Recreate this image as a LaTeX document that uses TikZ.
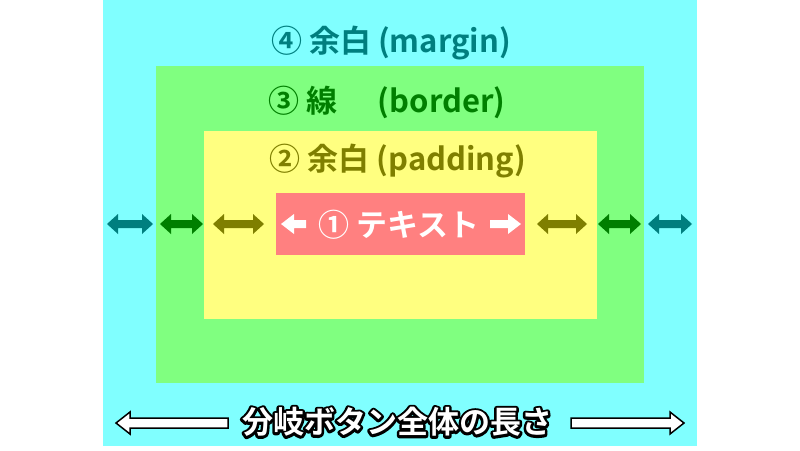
\documentclass[tikz,border=0pt]{standalone}
\usepackage{fontspec}
\newfontfamily\jp{Noto Sans CJK JP Bold}
\definecolor{cy}{HTML}{80FFFF}
\definecolor{gr}{HTML}{80FF80}
\definecolor{ye}{HTML}{FFFF80}
\definecolor{rd}{HTML}{FF8080}
\definecolor{tl}{HTML}{007F7F}
\definecolor{dg}{HTML}{007F00}
\definecolor{ol}{HTML}{7F7F00}
\tikzset{lbl/.style={font=\jp\fontsize{31}{33}\selectfont, inner sep=0pt}}
\newcommand{\dbl}[4]{% color, x1, x2, y
  \fill[#1] (#2,#4) -- ++(11,-10) -- ++(0,6) -- (#3-11,#4-4) -- ++(0,-6) -- (#3,#4) -- ++(-11,10) -- ++(0,-6) -- (#2+11,#4+4) -- ++(0,6) -- cycle;}
\begin{document}
\begin{tikzpicture}[x=1pt,y=-1pt]
\useasboundingbox (0,0) rectangle (800,450);
\fill[cy] (103,0) rectangle (697,446);
\fill[gr] (156,66) rectangle (644,383);
\fill[ye] (204,131) rectangle (597,319);
\fill[rd] (276,193) rectangle (525,255);
\node[lbl,tl] (m) at (391,43) {④ 余白 (margin)};
\node[lbl,dg] (b) at (387,102) {③ 線\hspace{1.3em}(border)};
\node[lbl,ol] (p) at (398,161) {② 余白 (padding)};
\node[lbl,white] (t) at (399,225) {① テキスト};
\dbl{tl}{107}{153}{224}
\dbl{dg}{160}{203}{224}
\dbl{ol}{213}{264}{224}
\dbl{ol}{537}{587}{224}
\dbl{dg}{598}{641}{224}
\dbl{tl}{648}{692}{224}
\fill[white] (281,224) -- (294,214) -- (294,220) -- (306,220) -- (306,228) -- (294,228) -- (294,234) -- cycle;
\fill[white] (521,224) -- (508,214) -- (508,220) -- (490,220) -- (490,228) -- (508,228) -- (508,234) -- cycle;
\node[lbl,black] (bs) at (397,422) {\special{pdf:literal direct 1 Tr 5 w 1 j 0 G}分岐ボタン全体の長さ\special{pdf:literal direct 0 Tr}};
\node[lbl,white] (bt) at (397,422) {分岐ボタン全体の長さ};
\draw[black,line width=1.5pt,fill=white] (116,423) -- (130,412) -- (130,418) -- (228,418) -- (228,428) -- (130,428) -- (130,434) -- cycle;
\draw[black,line width=1.5pt,fill=white] (684,423) -- (670,412) -- (670,418) -- (571,418) -- (571,428) -- (670,428) -- (670,434) -- cycle;
\end{tikzpicture}
\end{document}
